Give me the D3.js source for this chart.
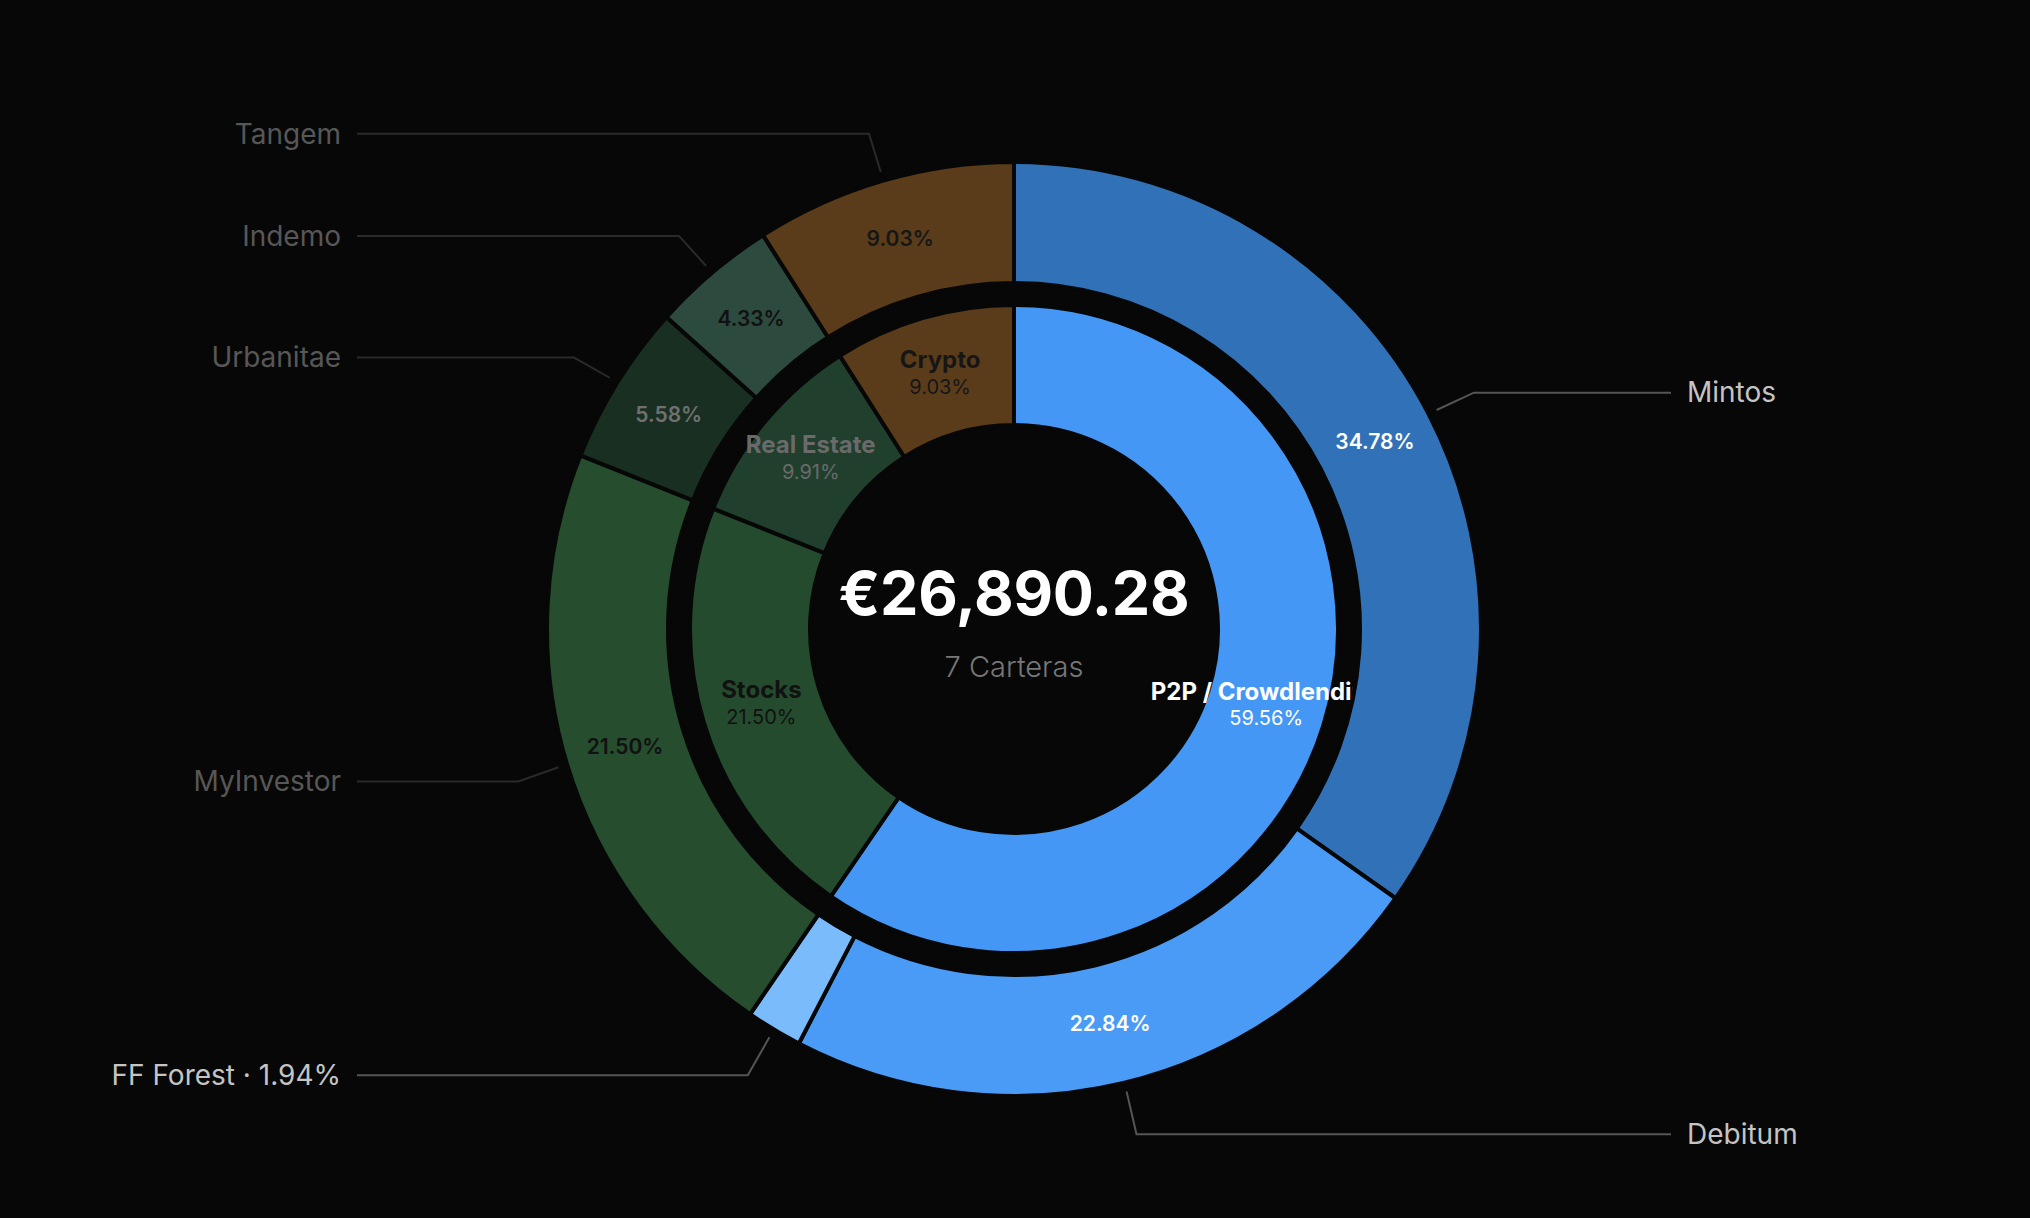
<!DOCTYPE html>
<html>
<head>
<meta charset="utf-8">
<script src="https://cdn.jsdelivr.net/npm/d3@7"></script>
<style>
    body { margin: 0; background: #070707; }
    svg text { font-family: Inter, "Noto Sans", sans-serif; }
</style>
</head>
<body>
<svg id="chart" width="2030" height="1218"></svg>
<script>
// Outer ring: one slice per wallet, clockwise from 12 o'clock
var wallets = ['Mintos', 'Debitum', 'FF Forest', 'MyInvestor', 'Urbanitae', 'Indemo', 'Tangem'];
var walletShares = [34.78, 22.84, 1.94, 21.50, 5.58, 4.33, 9.03];
var walletGroups = ['P2P / Crowdlending', 'P2P / Crowdlending', 'P2P / Crowdlending', 'Stocks', 'Real Estate', 'Real Estate', 'Crypto'];

// Inner ring: asset classes
var groups = ['P2P / Crowdlending', 'Stocks', 'Real Estate', 'Crypto'];
var groupShares = [59.56, 21.50, 9.91, 9.03];

var totalValue = 26890.28;
var walletCount = 7;

var width = 2030, height = 1218;
var cx = 1014, cy = 629;

var fillColor = d3.scaleOrdinal()
    .domain(wallets.concat(groups))
    .range(['#3171b8', '#499bf6', '#7abcfb', '#254d2e', '#182f21', '#2c4a3e', '#5a3c1a',
            '#4597f5', '#244b2d', '#203f2d', '#5a3c1a']);

// label colour sitting on top of each slice
var inkColor = d3.scaleOrdinal()
    .domain(wallets.concat(groups))
    .range(['#ffffff', '#ffffff', '#ffffff', '#111111', '#707070', '#111111', '#161616',
            '#ffffff', '#111111', '#6a6a6a', '#161616']);

var euro = d3.formatLocale({ decimal: '.', thousands: ',', grouping: [3], currency: ['€', ''] });
var fmtMoney = euro.format('$,.2f');
var fmtPct = function (v) { return v.toFixed(2) + '%'; };

var svg = d3.select('#chart');
svg.append('rect').attr('width', width).attr('height', height).attr('fill', '#070707');

var g = svg.append('g').attr('transform', 'translate(' + cx + ',' + cy + ')');

var pie = d3.pie().sort(null).value(function (d) { return d.value; });

var innerData = pie(groups.map(function (name, i) { return { name: name, value: groupShares[i] }; }));
var outerData = pie(wallets.map(function (name, i) {
    return { name: name, value: walletShares[i], group: walletGroups[i] };
}));

var innerArc = d3.arc().innerRadius(204).outerRadius(324);
var outerArc = d3.arc().innerRadius(346).outerRadius(467);

// inner ring
g.selectAll('.inner')
    .data(innerData)
    .enter().append('path')
    .attr('class', 'inner')
    .attr('d', innerArc)
    .attr('fill', function (d) { return fillColor(d.data.name); })
    .attr('stroke', '#070707')
    .attr('stroke-width', 4);

// inner labels (drawn before the outer ring so long names run under it)
var innerLabels = g.selectAll('.inner-label')
    .data(innerData)
    .enter().append('g')
    .attr('class', 'inner-label')
    .attr('transform', function (d) { return 'translate(' + innerArc.centroid(d) + ')'; });

innerLabels.append('text')
    .attr('y', -16)
    .attr('dy', '0.35em')
    .attr('text-anchor', 'middle')
    .attr('font-size', 24)
    .attr('font-weight', 700)
    .attr('fill', function (d) { return inkColor(d.data.name); })
    .text(function (d) { return d.data.name; });

innerLabels.append('text')
    .attr('y', 11)
    .attr('dy', '0.35em')
    .attr('text-anchor', 'middle')
    .attr('font-size', 20)
    .attr('font-weight', 400)
    .attr('fill', function (d) { return inkColor(d.data.name); })
    .text(function (d) { return fmtPct(d.data.value); });

// outer ring
g.selectAll('.outer')
    .data(outerData)
    .enter().append('path')
    .attr('class', 'outer')
    .attr('d', outerArc)
    .attr('fill', function (d) { return fillColor(d.data.name); })
    .attr('stroke', '#070707')
    .attr('stroke-width', 4);

// percentage inside outer slices, only when there is room
g.selectAll('.outer-label')
    .data(outerData.filter(function (d) { return d.data.value >= 3; }))
    .enter().append('text')
    .attr('class', 'outer-label')
    .attr('transform', function (d) { return 'translate(' + outerArc.centroid(d) + ')'; })
    .attr('dy', '0.35em')
    .attr('text-anchor', 'middle')
    .attr('font-size', 21)
    .attr('font-weight', 600)
    .attr('fill', function (d) { return inkColor(d.data.name); })
    .text(function (d) { return fmtPct(d.data.value); });

// leader lines and side labels
var startArc = d3.arc().innerRadius(476).outerRadius(476);
var elbowArc = d3.arc().innerRadius(518).outerRadius(518);

function isRight(d) {
    return (d.startAngle + d.endAngle) / 2 < Math.PI;
}
function isHighlighted(d) {
    return d.data.group === 'P2P / Crowdlending';
}
function elbow(d) {
    var p = elbowArc.centroid(d);
    return [p[0], p[1] + 2];
}

g.selectAll('.leader')
    .data(outerData)
    .enter().append('polyline')
    .attr('class', 'leader')
    .attr('fill', 'none')
    .attr('stroke', function (d) { return isHighlighted(d) ? '#555555' : '#2a2a2a'; })
    .attr('stroke-width', 2)
    .attr('points', function (d) {
        var a = startArc.centroid(d);
        var b = elbow(d);
        var c = [isRight(d) ? 657 : -657, b[1]];
        return [a, b, c].join(' ');
    });

g.selectAll('.side-label')
    .data(outerData)
    .enter().append('text')
    .attr('class', 'side-label')
    .attr('x', function (d) { return isRight(d) ? 673 : -673; })
    .attr('y', function (d) { return elbow(d)[1]; })
    .attr('dy', '0.35em')
    .attr('text-anchor', function (d) { return isRight(d) ? 'start' : 'end'; })
    .attr('font-size', 28)
    .attr('font-weight', 400)
    .attr('fill', function (d) { return isHighlighted(d) ? '#c4c4c4' : '#575757'; })
    .text(function (d) {
        return d.data.value < 3 ? d.data.name + ' · ' + fmtPct(d.data.value) : d.data.name;
    });

// centre
g.append('text')
    .attr('y', -14)
    .attr('text-anchor', 'middle')
    .attr('font-size', 61)
    .attr('font-weight', 700)
    .attr('letter-spacing', -0.3)
    .attr('fill', '#ffffff')
    .text(fmtMoney(totalValue));

g.append('text')
    .attr('y', 48)
    .attr('text-anchor', 'middle')
    .attr('font-size', 29)
    .attr('font-weight', 300)
    .attr('fill', '#777777')
    .text(walletCount + ' Carteras');
</script>
</body>
</html>
